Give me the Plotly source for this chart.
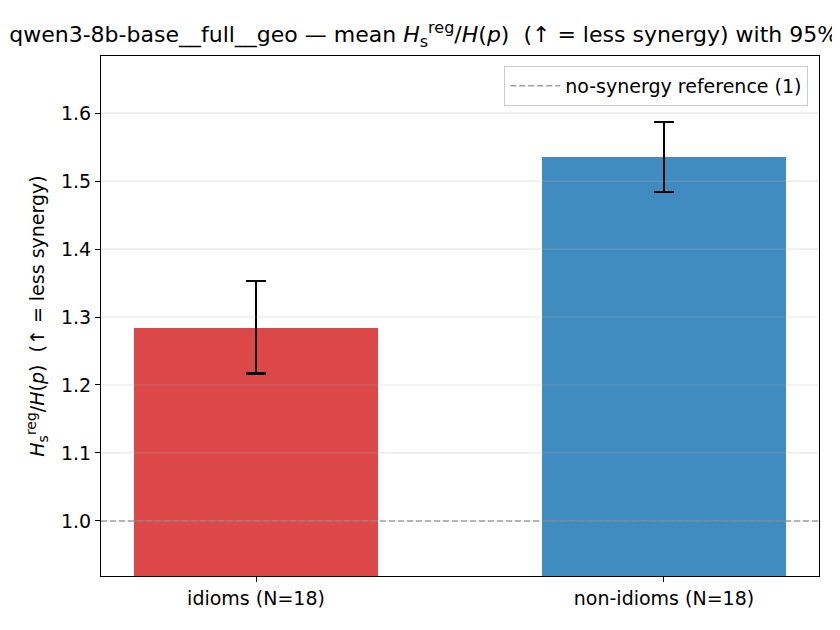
import plotly.graph_objects as go

categories = ["idioms (N=18)", "non-idioms (N=18)"]
means = [1.284, 1.535]
ci_low = [1.217, 1.484]
ci_high = [1.353, 1.587]
bar_colors = ["rgba(214,39,40,0.85)", "rgba(31,119,180,0.85)"]
ref_value = 1.0
y_ticks = [1.0, 1.1, 1.2, 1.3, 1.4, 1.5, 1.6]

err_plus = [h - m for h, m in zip(ci_high, means)]
err_minus = [m - l for m, l in zip(means, ci_low)]

fig = go.Figure()
fig.add_trace(go.Bar(
    x=[0, 1], y=means, width=0.6,
    marker=dict(color=bar_colors, line=dict(width=0)),
    error_y=dict(type="data", symmetric=False, array=err_plus, arrayminus=err_minus,
                 color="black", thickness=2.2, width=10),
    showlegend=False,
))
fig.add_trace(go.Scatter(
    x=[-0.38, 1.38], y=[ref_value, ref_value], mode="lines",
    line=dict(color="rgba(128,128,128,0.75)", width=1.4, dash="6px,3px"),
    name="no-synergy reference (1)",
))

# grid drawn over the bars like in the original
for t in y_ticks:
    fig.add_shape(type="line", xref="paper", x0=0, x1=1, yref="y", y0=t, y1=t,
                  line=dict(color="rgba(176,176,176,0.3)", width=1.2), layer="above")


def hreg(px):
    small = '<span style="font-size:%dpx">%%s</span>' % px
    return "<i>H</i><sub>" + small % "s" + "</sub><sup>" + small % "reg" + "</sup>"


# page body has an 8px margin, so the figure is shrunk and shifted to match
fig.update_layout(
    width=832, height=622,
    margin=dict(l=93, r=21, t=48, b=54),
    paper_bgcolor="white", plot_bgcolor="white",
    font=dict(family="DejaVu Sans", size=19, color="black"),
    title=dict(
        text="qwen3-8b-base__full__geo — mean " + hreg(16) + "/<i>H</i>(<i>p</i>)  (↑ = less synergy) with 95% CI",
        x=0.0015, xanchor="left", xref="container", y=0.957, yanchor="middle",
        font=dict(size=22),
    ),
    xaxis=dict(
        range=[-0.38, 1.38], tickmode="array", tickvals=[0, 1], ticktext=categories,
        showgrid=False, zeroline=False, showline=True, linecolor="black", linewidth=1.2,
        mirror=True, ticks="outside", ticklen=5, tickcolor="black",
    ),
    yaxis=dict(
        range=[0.919, 1.684], tickmode="array",
        tickvals=y_ticks,
        ticktext=["%.1f" % t for t in y_ticks],
        showgrid=False, zeroline=False,
        showline=True, linecolor="black", linewidth=1.2, mirror=True,
        ticks="outside", ticklen=5, tickcolor="black",
        title=dict(text=hreg(14) + "/<i>H</i>(<i>p</i>)  (↑ = less synergy)",
                   standoff=11, font=dict(size=19)),
    ),
    legend=dict(
        x=0.985, y=0.981, xanchor="right", yanchor="top",
        bgcolor="rgba(255,255,255,0.8)", bordercolor="#cccccc", borderwidth=1,
        font=dict(size=19), itemwidth=50,
    ),
    bargap=0,
)

fig.write_html("out.html")
